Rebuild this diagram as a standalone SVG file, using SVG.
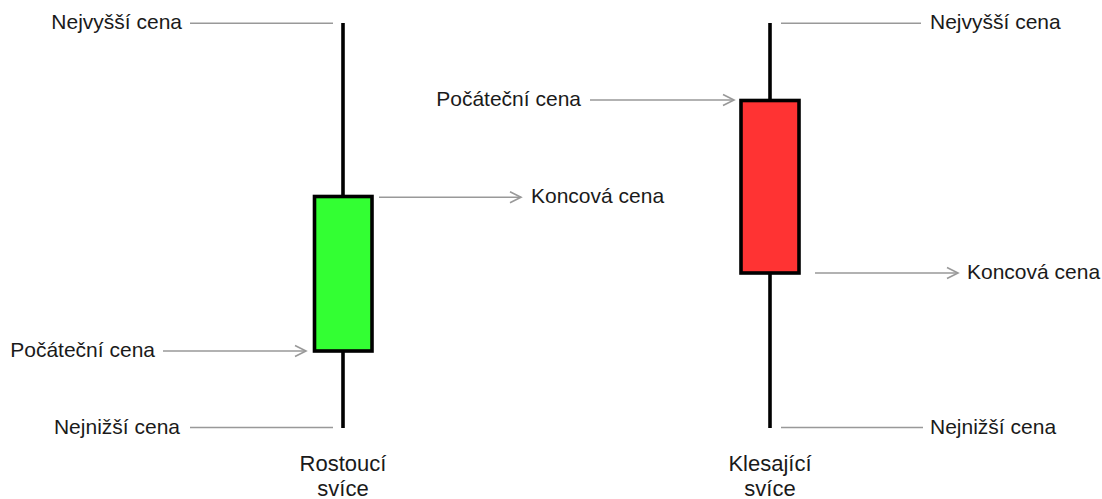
<svg xmlns="http://www.w3.org/2000/svg" width="1102" height="499" viewBox="0 0 1102 499">
<defs>
<style>
text{font-family:"Liberation Sans",Arial,sans-serif;font-size:21px;fill:#1a1a1a}
.c{text-anchor:middle;font-size:22px}
.e{text-anchor:end}
.wick{stroke:#000;stroke-width:3.6;fill:none}
.body{stroke:#000;stroke-width:3.6}
.ln{stroke:#999;stroke-width:1.6;fill:none}
.ar{stroke:#999;stroke-width:1.6;fill:none;marker-end:url(#arr)}
</style>
<marker id="arr" markerUnits="userSpaceOnUse" markerWidth="14" markerHeight="14" refX="12" refY="7" orient="auto" viewBox="0 0 14 14">
<path d="M1,1.5 L12,7 L1,12.5" fill="none" stroke="#999" stroke-width="1.6"/>
</marker>
</defs>
<rect width="1102" height="499" fill="#fff"/>
<g id="connectors">
<line class="ln" x1="190" y1="23.3" x2="333" y2="23.3"/>
<line class="ar" x1="379" y1="197.3" x2="521" y2="197.3"/>
<line class="ar" x1="163" y1="351" x2="306" y2="351"/>
<line class="ln" x1="190" y1="427.5" x2="333" y2="427.5"/>
<line class="ln" x1="781" y1="23.3" x2="921" y2="23.3"/>
<line class="ar" x1="590" y1="100" x2="734" y2="100"/>
<line class="ar" x1="815" y1="273" x2="958" y2="273"/>
<line class="ln" x1="781" y1="427.5" x2="923" y2="427.5"/>
</g>
<g id="candle-up">
<line class="wick" x1="343" y1="23" x2="343" y2="428"/>
<rect class="body" x="314.5" y="196.5" width="57.5" height="154.5" fill="#33ff33"/>
</g>
<g id="candle-down">
<line class="wick" x1="770" y1="23" x2="770" y2="428"/>
<rect class="body" x="741" y="100.5" width="58" height="172.5" fill="#ff3333"/>
</g>
<g id="labels-left">
<text class="e" x="182" y="28.5">Nejvyšší cena</text>
<text x="531" y="203.3">Koncová cena</text>
<text class="e" x="155" y="357">Počáteční cena</text>
<text class="e" x="180" y="433.5">Nejnižší cena</text>
<text class="c" x="343" y="471">Rostoucí</text>
<text class="c" x="343" y="496">svíce</text>
</g>
<g id="labels-right">
<text x="930" y="28.5">Nejvyšší cena</text>
<text class="e" x="581" y="106">Počáteční cena</text>
<text x="967" y="279">Koncová cena</text>
<text x="930" y="433.5">Nejnižší cena</text>
<text class="c" x="770" y="471">Klesající</text>
<text class="c" x="770" y="496">svíce</text>
</g>
</svg>
